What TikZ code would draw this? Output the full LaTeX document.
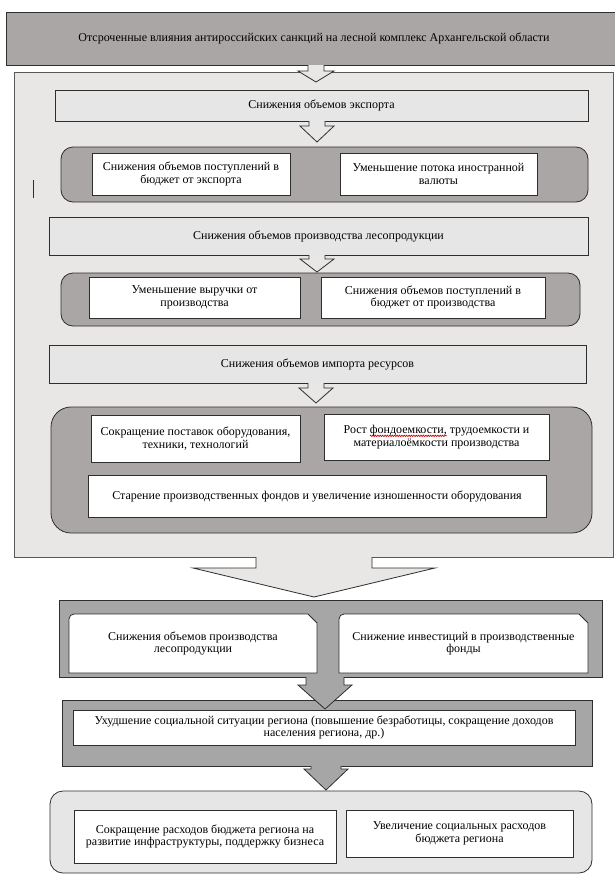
\documentclass[tikz,border=0pt]{standalone}
\usepackage{fontspec}
\setmainfont{Liberation Serif}
\usetikzlibrary{decorations.pathmorphing}
\definecolor{panelc}{HTML}{E8E7E5}
\definecolor{darkg}{HTML}{AAA6A5}
\definecolor{midg}{HTML}{A6A6A6}
\definecolor{lightg}{HTML}{E6E6E6}
\definecolor{edgec}{HTML}{2E2E2E}
\newlength\sqlen
\newcommand\squig[1]{\settowidth\sqlen{#1}\leavevmode\rlap{\tikz[overlay]\draw[red!85!black,line width=0.7pt,decorate,decoration={snake,amplitude=0.7pt,segment length=2.4pt}] (0pt,-2.2pt) -- (\sqlen,-2.2pt);}#1}
\newcommand\boxat[7]{\node[#2,minimum width={(#5-#3)*1pt},minimum height={(#6-#4)*1pt}] (#1) at ({(#3+#5)/2},{(#4+#6)/2}) {#7};}
% #1 fill, #2 top coordinate, #3 shaft half width, #4 shaft length, #5 head half width, #6 head length, #7 overlap upwards
\newcommand\blockarrow[7]{%
  \fill[#1] (#2) ++(-#3,-#7) -- ++(0,{#4+#7}) -- ++({#3-#5},0) -- ++(#5,#6) -- ++(#5,-#6) -- ++({#3-#5},0) -- ++(0,{-#4-#7}) -- cycle;
  \draw[arrowline] (#2) ++(-#3,0) -- ++(0,#4) -- ++({#3-#5},0) -- ++(#5,#6) -- ++(#5,-#6) -- ++({#3-#5},0) -- ++(0,-#4);}
\begin{document}
\begin{tikzpicture}[x=1pt,y=-1pt,
  every node/.style={font=\fontsize{12}{12.5}\selectfont, align=center, inner sep=0pt, outer sep=0pt},
  line/.style={draw=edgec, line width=0.8pt},
  arrowline/.style={draw=edgec, line width=0.8pt, line join=miter},
  titlebox/.style={line, fill=darkg},
  panelbox/.style={draw=edgec!80, line width=0.9pt, fill=panelc},
  lightbox/.style={line, fill=lightg},
  group/.style={line, fill=darkg, rounded corners=12pt},
  biggroup/.style={line, fill=darkg, rounded corners=20pt},
  flatgroup/.style={line, fill=midg},
  lightgroup/.style={line, fill=lightg, rounded corners=13pt},
  wbox/.style={line, fill=white},
  ghost/.style={draw=none, fill=none}]
\useasboundingbox (0,0) rectangle (615,876);
\fill[white] (0,0) rectangle (615,876);

% top title
\boxat{title}{titlebox}{6}{12}{620}{65}{}
\node (titletext) at (314,38.5) {Отсроченные влияния антироссийских санкций на лесной комплекс Архангельской области};

% textured panel
\boxat{panel}{panelbox}{14}{72}{613}{557}{}
\coordinate (a1) at (title.south -| 316,0);
\blockarrow{panelc}{a1}{8}{6}{18}{11}{0}

% export
\boxat{export}{lightbox}{55}{90}{588}{121}{Снижения объемов экспорта}
\coordinate (a2) at (export.south -| 317,0);
\blockarrow{panelc}{a2}{8}{5}{17}{16}{0}

\boxat{g1}{group}{61}{147}{588}{202}{}
\boxat{g1l}{wbox}{92}{153}{290}{195}{Снижения объемов поступлений в\\бюджет от экспорта}
\boxat{g1r}{wbox}{340}{153}{537}{195}{Уменьшение потока иностранной\\валюты}
\draw[line] (33,180) -- (33,198);

% production
\boxat{prod}{lightbox}{49}{217}{588}{255}{Снижения объемов производства лесопродукции}
\coordinate (a3) at (prod.south -| 317,0);
\blockarrow{panelc}{a3}{8}{4}{17}{13}{0}

\boxat{g2}{group}{61}{273}{580}{326}{}
\boxat{g2l}{wbox}{89}{277}{300}{318}{Уменьшение выручки от\\производства}
\boxat{g2r}{wbox}{321}{277}{545}{318}{Снижения объемов поступлений в\\бюджет от производства}

% import
\boxat{import}{lightbox}{49}{345}{586}{383}{Снижения объемов импорта ресурсов}
\coordinate (a4) at (import.south -| 316,0);
\blockarrow{panelc}{a4}{8}{5}{17}{15}{0}

\boxat{g3}{biggroup}{51}{407}{592}{533}{}
\boxat{g3l}{wbox}{91}{415}{300}{462}{Сокращение поставок оборудования,\\техники, технологий}
\boxat{g3r}{wbox}{324}{414}{549}{460}{Рост \squig{фондоемкости,} трудоемкости и\\материалоёмкости производства}
\boxat{g3b}{wbox}{88}{475}{546}{517}{Старение производственных фондов и увеличение изношенности оборудования}

% big hollow arrow
\coordinate (a5) at (panel.south -| 314,0);
\blockarrow{panelc}{a5}{58}{11}{121}{29}{1.5}

% second stage
\boxat{g4}{flatgroup}{59}{600}{602}{677}{}
\path node[ghost,minimum width=248pt,minimum height=59pt] (g4l) at (193,643.5) {};
\path node[ghost,minimum width=249pt,minimum height=59pt] (g4r) at (463.5,643.5) {};
\foreach \b in {g4l,g4r}{
  \filldraw[wbox] (\b.south west) [rounded corners=5pt] -- (\b.north west) [sharp corners] -- ([xshift=-9pt]\b.north east) -- ([yshift=-9pt]\b.north east) -- (\b.south east) -- cycle;}
\node at (g4l) {Снижения объемов производства\\лесопродукции};
\node at (g4r) {Снижение инвестиций в производственные\\фонды};

\boxat{g5}{flatgroup}{62}{700}{592}{766}{}
\coordinate (a6) at (g4.south -| 325,0);
\blockarrow{midg}{a6}{19}{8}{27}{24}{1.5}
\boxat{g5w}{wbox}{73}{710}{575}{745}{Ухудшение социальной ситуации региона (повышение безработицы, сокращение доходов\\населения региона, др.)}

\boxat{g6}{lightgroup}{50}{791}{592}{873}{}
\coordinate (a7) at (g5.south -| 326,0);
\blockarrow{midg}{a7}{15}{3}{22}{21}{1.5}
\boxat{g6l}{wbox}{74}{810}{336}{863}{Сокращение расходов бюджета региона на\\развитие инфраструктуры, поддержку бизнеса}
\boxat{g6r}{wbox}{346}{810}{573}{857}{Увеличение социальных расходов\\бюджета региона}
\end{tikzpicture}
\end{document}
